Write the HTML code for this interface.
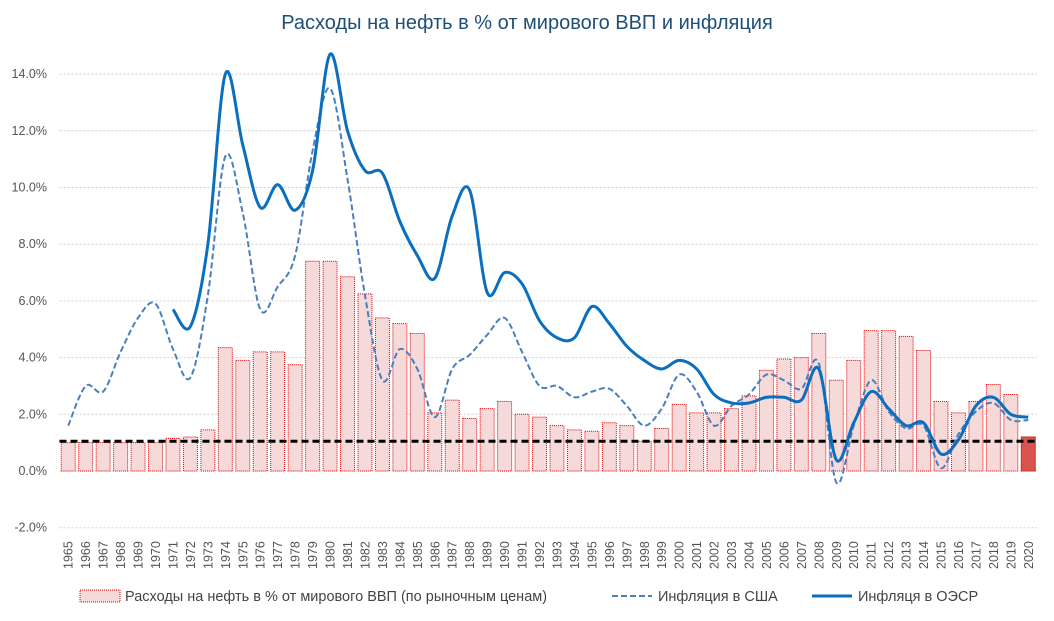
<!DOCTYPE html>
<html><head><meta charset="utf-8"><style>
body{margin:0;background:#fff;font-family:"Liberation Sans",sans-serif}
svg{display:block}
</style></head><body>
<svg id="chart" width="1054" height="621">
<text x="527" y="29" text-anchor="middle" font-size="20" fill="#1f4e79">Расходы на нефть в % от мирового ВВП и инфляция</text>
<g id="grid"></g><g id="bars"></g><g id="lines"></g><g id="axes"></g>
<g>
<rect x="80" y="590" width="40" height="12" fill="#f6d9d9" stroke="#e00000" stroke-dasharray="1,1"/>
<text x="125" y="601" font-size="14.5" fill="#444">Расходы на нефть в % от мирового ВВП (по рыночным ценам)</text>
<line x1="612" y1="596" x2="652" y2="596" stroke="#4a7ebf" stroke-width="2" stroke-dasharray="6,3"/>
<text x="658" y="601" font-size="14.5" fill="#444">Инфляция в США</text>
<line x1="812" y1="596" x2="852" y2="596" stroke="#0b6fbf" stroke-width="3"/>
<text x="858" y="601" font-size="14.5" fill="#444">Инфляця в ОЭСР</text>
</g>
</svg>
<script>
const years=[];for(let y=1965;y<=2020;y++)years.push(y);
const oilShare=[1.0,1.0,1.0,1.0,1.0,1.0,1.15,1.2,1.45,4.35,3.9,4.2,4.2,3.75,7.4,7.4,6.85,6.25,5.4,5.2,4.85,2.05,2.5,1.85,2.2,2.45,2.0,1.9,1.6,1.45,1.4,1.7,1.6,1.05,1.5,2.35,2.05,2.05,2.2,2.65,3.55,3.95,4.0,4.85,3.2,3.9,4.95,4.95,4.75,4.25,2.45,2.05,2.45,3.05,2.7,1.2];
const usInflation=[1.6,3.0,2.8,4.2,5.4,5.9,4.3,3.3,6.2,11.1,9.1,5.7,6.5,7.6,11.3,13.5,10.3,6.2,3.2,4.3,3.6,1.9,3.6,4.1,4.8,5.4,4.2,3.0,3.0,2.6,2.8,2.9,2.3,1.6,2.2,3.4,2.8,1.6,2.3,2.7,3.4,3.2,2.9,3.8,-0.4,1.6,3.2,2.1,1.5,1.6,0.1,1.3,2.1,2.4,1.8,1.8];
const oecdStart=1971;
const oecdInflation=[5.7,5.1,8.0,14.0,11.5,9.3,10.1,9.2,10.6,14.7,12.0,10.6,10.5,8.8,7.6,6.8,9.0,9.9,6.3,7.0,6.6,5.3,4.7,4.7,5.8,5.2,4.4,3.9,3.6,3.9,3.6,2.7,2.4,2.4,2.6,2.6,2.5,3.6,0.4,1.7,2.8,2.2,1.6,1.7,0.6,1.1,2.3,2.6,2.0,1.9];
const yTicks=[-2,0,2,4,6,8,10,12,14];
const refLevel=1.05;
const NS='http://www.w3.org/2000/svg';
const L=59.5,R=1037,step=(R-L)/years.length;
const X=i=>L+step*(i+0.5);
const Y=v=>471-v*28.35;
function mk(t,a,p){const e=document.createElementNS(NS,t);for(const k in a)e.setAttribute(k,a[k]);p.appendChild(e);return e;}
const grid=document.getElementById('grid'),bars=document.getElementById('bars'),lines=document.getElementById('lines'),axes=document.getElementById('axes');
yTicks.forEach(v=>{
 const g=mk('line',{x1:L,x2:R,y1:Y(v),y2:Y(v),stroke:'#d0d0d0','stroke-dasharray':'2,2'},grid);
 
 
 const t=mk('text',{x:47,y:Y(v)+4,'text-anchor':'end','font-size':'12.5',fill:'#555'},axes);
 t.textContent=v.toFixed(1)+'%';
 
 
});
const bw=step*0.8;
oilShare.forEach((v,i)=>{
 const last=i===oilShare.length-1;
 const b=mk('rect',{x:X(i)-bw/2,y:Y(v),width:bw,height:Y(0)-Y(v),fill:last?'#d9534f':'#f6d9d9',stroke:last?'#c0392b':'#e00000','stroke-width':1,'stroke-dasharray':last?'none':'1,1'},bars);
 
 
 const t=mk('text',{transform:`translate(${X(i)+4.5},569) rotate(-90)`,'font-size':'12.5',fill:'#555'},axes);
 t.textContent=years[i];
 
 
});
const ref=mk('line',{x1:L,x2:R,y1:Y(refLevel),y2:Y(refLevel),stroke:'#000','stroke-width':3,'stroke-dasharray':'7,4'},lines);


function smooth(pts){let d=`M${pts[0][0]},${pts[0][1]}`;for(let i=0;i<pts.length-1;i++){const p0=pts[i-1]||pts[i],p1=pts[i],p2=pts[i+1],p3=pts[i+2]||p2;const c1=[p1[0]+(p2[0]-p0[0])/6,p1[1]+(p2[1]-p0[1])/6],c2=[p2[0]-(p3[0]-p1[0])/6,p2[1]-(p3[1]-p1[1])/6];d+=`C${c1},${c2},${p2}`;}return d;}
const us=mk('path',{d:smooth(usInflation.map((v,i)=>[X(i),Y(v)])),fill:'none',stroke:'#4a7ebf','stroke-width':2,'stroke-dasharray':'6,3'},lines);


const off=oecdStart-years[0];
const oe=mk('path',{d:smooth(oecdInflation.map((v,i)=>[X(i+off),Y(v)])),fill:'none',stroke:'#0b6fbf','stroke-width':3},lines);


</script>
</body></html>
